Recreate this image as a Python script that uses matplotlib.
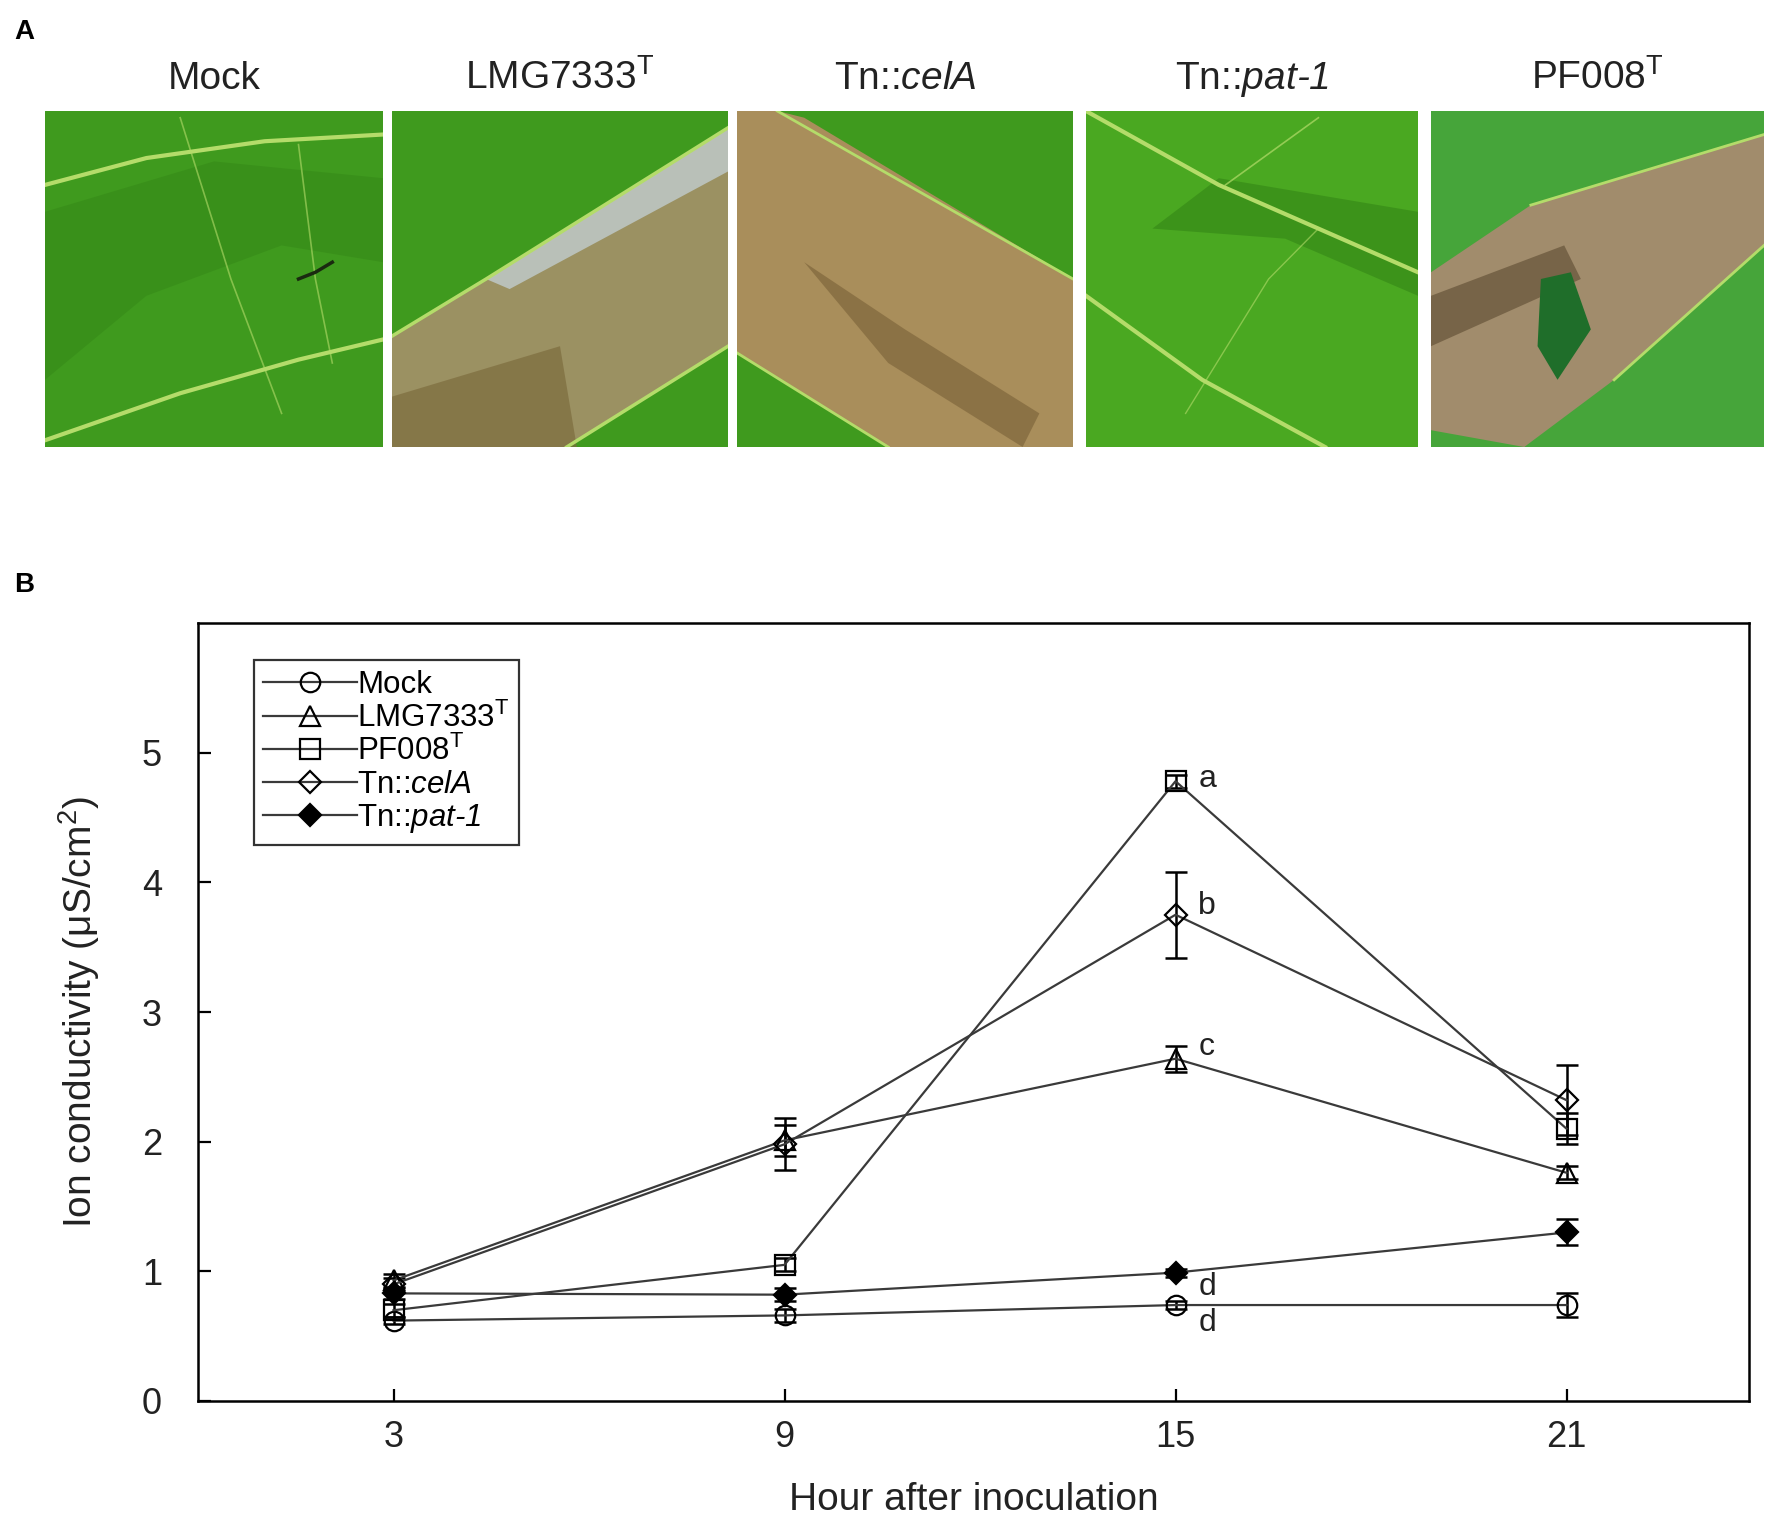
import matplotlib
matplotlib.use("Agg")
import matplotlib.pyplot as plt
from matplotlib.patches import Polygon, Rectangle
import numpy as np

plt.rcParams['font.family'] = ['Liberation Sans', 'DejaVu Sans']
plt.rcParams['mathtext.fontset'] = 'custom'
plt.rcParams['mathtext.rm'] = 'Liberation Sans'
plt.rcParams['mathtext.it'] = 'Liberation Sans:italic'
plt.rcParams['mathtext.sf'] = 'Liberation Sans:italic'

# ---- data ----
hours = [3, 9, 15, 21]
mock = [0.62, 0.66, 0.74, 0.74]
mock_err = [0.03, 0.05, 0.03, 0.09]
lmg = [0.93, 2.01, 2.64, 1.76]
lmg_err = [0.05, 0.12, 0.10, 0.05]
pf008 = [0.70, 1.05, 4.78, 2.10]
pf008_err = [0.05, 0.05, 0.05, 0.12]
cela = [0.90, 1.98, 3.75, 2.32]
cela_err = [0.05, 0.20, 0.33, 0.27]
pat1 = [0.83, 0.82, 0.99, 1.30]
pat1_err = [0.04, 0.05, 0.03, 0.10]

letters = ['a', 'b', 'c', 'd', 'd']
letter_y = [4.80, 3.82, 2.73, 0.88, 0.60]

PAT = 'Tn::$\\mathsf{pat\u20101}$'
photo_titles = ['Mock', 'LMG7333$^{\\mathrm{T}}$', 'Tn::$\\mathit{celA}$',
                PAT, 'PF008$^{\\mathrm{T}}$']
legend_labels = ['Mock', 'LMG7333$^{\\mathrm{T}}$', 'PF008$^{\\mathrm{T}}$',
                 'Tn::$\\mathit{celA}$', PAT]

W, H = 1775, 1521
fig = plt.figure(figsize=(W / 100, H / 100), dpi=100)

def fx(px):
    return px / W

def fy(py):
    return 1 - py / H

# ---- panel A : schematic leaf photos ----
photo_x = [(45, 383), (392, 728), (737, 1073), (1086, 1418), (1431, 1764)]
top, bot = 111, 447
GREEN = '#3f9a1e'
DGREEN = '#2c7a12'
VEIN = '#b4dc6a'
for i, (x0, x1) in enumerate(photo_x):
    ax = fig.add_axes([fx(x0), fy(bot), fx(x1 - x0), (bot - top) / H])
    ax.set_xlim(0, 1)
    ax.set_ylim(0, 1)
    ax.axis('off')
    ax.add_patch(Rectangle((0, 0), 1, 1, color=GREEN, zorder=0))
    if i == 0:
        ax.add_patch(Polygon([(0, 0.2), (0.3, 0.45), (0.7, 0.6), (1, 0.55), (1, 0.8), (0.5, 0.85), (0, 0.7)],
                             color=DGREEN, alpha=0.3, lw=0))
        ax.plot([0, 0.3, 0.65, 1], [0.78, 0.86, 0.91, 0.93], color=VEIN, lw=3)
        ax.plot([0, 0.4, 0.75, 1], [0.02, 0.16, 0.26, 0.32], color=VEIN, lw=3)
        ax.plot([0.4, 0.55, 0.7], [0.98, 0.5, 0.1], color=VEIN, lw=1.2, alpha=0.6)
        ax.plot([0.75, 0.8, 0.85], [0.9, 0.5, 0.25], color=VEIN, lw=1.2, alpha=0.6)
        ax.plot([0.75, 0.8, 0.85], [0.5, 0.52, 0.55], color='#1a2a10', lw=2.5)
    elif i == 1:
        ax.add_patch(Polygon([(0, 0), (0, 0.33), (0.28, 0.5), (1, 0.95), (1, 0.3), (0.52, 0)],
                             color='#9b9162', lw=0))
        ax.add_patch(Polygon([(0.28, 0.5), (1, 0.95), (1, 0.82), (0.35, 0.47)],
                             color='#b9c0b8', lw=0))
        ax.add_patch(Polygon([(0, 0), (0, 0.15), (0.5, 0.3), (0.55, 0.0)],
                             color='#7d6c3e', lw=0, alpha=0.7))
        ax.plot([0, 0.28, 1], [0.33, 0.5, 0.95], color=VEIN, lw=2.5)
        ax.plot([0.52, 1], [0, 0.3], color=VEIN, lw=2.5)
    elif i == 2:
        ax.add_patch(Polygon([(0, 0.28), (0, 1), (0.12, 1), (0.2, 0.98), (1, 0.5), (1, 0), (0.45, 0)],
                             color='#a98e5b', lw=0))
        ax.add_patch(Polygon([(0.2, 0.55), (0.5, 0.35), (0.9, 0.1), (0.85, 0), (0.45, 0.25)],
                             color='#6f5730', lw=0, alpha=0.5))
        ax.plot([0.12, 1], [1, 0.5], color=VEIN, lw=2)
        ax.plot([0, 0.45], [0.28, 0], color=VEIN, lw=2)
    elif i == 3:
        ax.add_patch(Rectangle((0, 0), 1, 1, color='#4aa821', zorder=0))
        ax.add_patch(Polygon([(0.2, 0.65), (0.6, 0.62), (1, 0.45), (1, 0.7), (0.4, 0.8)],
                             color=DGREEN, alpha=0.45, lw=0))
        ax.plot([0, 0.4, 1], [1, 0.78, 0.52], color=VEIN, lw=3)
        ax.plot([0, 0.35, 0.72], [0.45, 0.2, 0], color=VEIN, lw=3)
        ax.plot([0.42, 0.7], [0.78, 0.98], color=VEIN, lw=1.2, alpha=0.7)
        ax.plot([0.3, 0.55, 0.7], [0.1, 0.5, 0.65], color=VEIN, lw=1, alpha=0.6)
    else:
        ax.add_patch(Rectangle((0, 0), 1, 1, color='#46a53a', zorder=0))
        ax.add_patch(Polygon([(0, 0.05), (0, 0.52), (0.3, 0.72), (1, 0.93), (1, 0.6), (0.55, 0.2), (0.28, 0)],
                             color='#a18c6c', lw=0))
        ax.add_patch(Polygon([(0, 0.3), (0, 0.45), (0.4, 0.6), (0.45, 0.5)],
                             color='#5c4a30', lw=0, alpha=0.6))
        ax.add_patch(Polygon([(0.33, 0.5), (0.42, 0.52), (0.48, 0.35), (0.38, 0.2), (0.32, 0.3)],
                             color='#1f6e2a', lw=0))
        ax.plot([0.3, 1], [0.72, 0.93], color=VEIN, lw=2)
        ax.plot([0.55, 1], [0.2, 0.6], color=VEIN, lw=2)
    ax.set_title(photo_titles[i], fontsize=28, color='#222222', pad=16)

fig.text(fx(14), fy(32), 'A', fontsize=20, fontweight='bold', va='center')
fig.text(fx(14), fy(585), 'B', fontsize=20, fontweight='bold', va='center')

# ---- panel B : line chart ----
ax = fig.add_axes([fx(198), fy(1401), fx(1749 - 198), (1401 - 623) / H])
series = [
    (mock, mock_err, 'o', 'none'),
    (lmg, lmg_err, '^', 'none'),
    (pf008, pf008_err, 's', 'none'),
    (cela, cela_err, 'D', 'none'),
    (pat1, pat1_err, 'D', 'black'),
]
handles = []
for (vals, err, mk, mfc), lab in zip(series, legend_labels):
    ms = 14 if mk != 'D' else 11
    ax.errorbar(hours, vals, yerr=err, fmt='none', ecolor='black', elinewidth=1.8,
                capsize=8, capthick=1.8, zorder=3)
    h, = ax.plot(hours, vals, color='#3a3a3a', lw=1.6, marker=mk, ms=ms,
                 mfc=mfc, mec='black', mew=1.6, label=lab, zorder=4)
    handles.append(h)

for t, ly in zip(letters, letter_y):
    ax.text(15.35, ly, t, fontsize=23, ha='left', va='center', color='#222222')

ax.set_xlim(0, 23.8)
ax.set_ylim(0, 6)
ax.set_xticks(hours)
ax.set_yticks([0, 1, 2, 3, 4, 5])
ax.tick_params(direction='in', length=9, width=1.6, labelsize=26, colors='black',
               labelcolor='#222222')
ax.tick_params(axis='x', pad=14)
ax.tick_params(axis='y', pad=26)
for side in ['top', 'right', 'left', 'bottom']:
    ax.spines[side].set_linewidth(1.8)
ax.set_xlabel('Hour after inoculation', fontsize=28, color='#222222')
ax.xaxis.set_label_coords(0.5, (1401 - 1500) / 778)
ax.xaxis.label.set_va('center')
ax.set_ylabel('Ion conductivity (\u03bcS/cm$^{2}$)', fontsize=28, color='#222222')
ax.yaxis.set_label_coords((79 - 198) / 1551, 0.5)
ax.yaxis.label.set_va('center')

leg = ax.legend(handles=handles, loc='upper left', bbox_to_anchor=(0.036, 0.952),
                fontsize=22.5, frameon=True, fancybox=False, edgecolor='black',
                handlelength=3.0, handletextpad=0.0, labelspacing=0.08,
                borderpad=0.3, borderaxespad=0)
leg.get_frame().set_linewidth(1.6)

fig.savefig('out.png', dpi=100)
